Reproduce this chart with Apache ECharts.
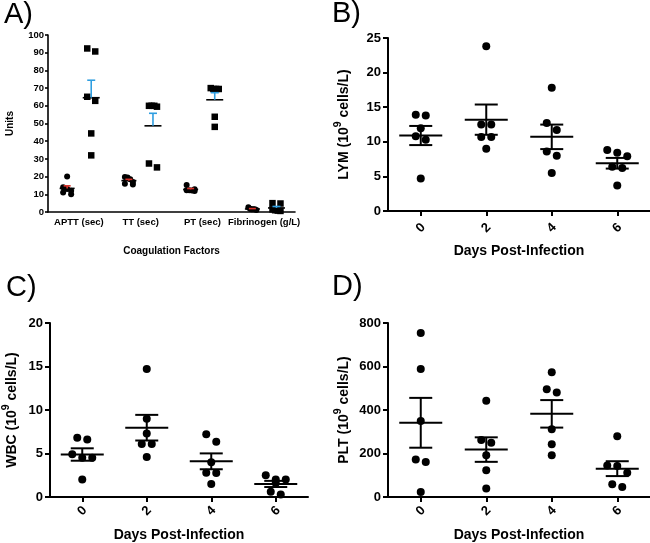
<!DOCTYPE html>
<html><head><meta charset="utf-8">
<script src="https://cdn.jsdelivr.net/npm/echarts@6/dist/echarts.min.js"></script>
<style>html,body{margin:0;padding:0;background:#fff}#c{width:650px;height:543px}</style>
</head><body><div id="c"></div>
<script>
// ---------- Data ----------
const coagCategories = ['APTT (sec)', 'TT (sec)', 'PT (sec)', 'Fibrinogen (g/L)'];
const coagControl = [
  [20.0, 14.0, 13.0, 12.0, 11.0, 10.0],
  [19.8, 19.5, 18.5, 17.0, 16.0, 15.5],
  [15.2, 12.8, 12.3, 12.3, 12.2, 11.8],
  [2.7, 1.8, 1.6, 1.5, 1.5, 1.2]
];
const coagInfected = [
  [92.4, 90.7, 65.1, 62.8, 44.4, 32.0],
  [60.0, 60.0, 59.5, 60.0, 27.4, 25.2],
  [69.5, 70.0, 69.5, 69.5, 53.8, 48.1],
  [5.0, 4.8, 1.5, 1.0, 0.8, 0.6]
];
const days = ['0', '2', '4', '6'];
const lym = [
  [13.9, 13.8, 11.95, 10.8, 10.3, 4.7],
  [23.8, 12.5, 12.5, 10.7, 10.7, 9.0],
  [17.8, 12.7, 11.7, 8.6, 8.0, 5.5],
  [8.8, 8.4, 7.9, 6.4, 6.2, 3.7]
];
const wbc = [
  [6.8, 6.6, 4.9, 4.5, 4.5, 2.0],
  [14.7, 9.0, 7.3, 6.1, 6.1, 4.6],
  [7.2, 6.35, 4.0, 2.8, 2.75, 1.5],
  [2.5, 2.0, 2.0, 1.6, 0.6, 0.3]
];
const plt = [
  [754, 588, 349, 172, 161, 23],
  [443, 262, 249, 192, 123, 39],
  [574, 495, 480, 311, 242, 192],
  [279, 145, 142, 111, 59, 46]
];

// ---------- Helpers ----------
const FONT = '"Liberation Sans", Arial, sans-serif';
function stats(v) {
  const n = v.length, m = v.reduce((a, b) => a + b, 0) / n;
  const sd = Math.sqrt(v.reduce((a, b) => a + (b - m) * (b - m), 0) / (n - 1));
  return [m, sd / Math.sqrt(n)];
}
function swarm(ys, spacing, maxSpan, thr) {
  const idx = ys.map((y, i) => i).sort((a, b) => ys[a] - ys[b]);
  const rows = [];
  idx.forEach(i => {
    const r = rows[rows.length - 1];
    if (r && Math.abs(ys[i] - ys[r[0]]) < thr) r.push(i); else rows.push([i]);
  });
  const off = new Array(ys.length).fill(0);
  rows.forEach(r => {
    const n = r.length; if (n < 2) return;
    const step = Math.min(spacing, maxSpan / (n - 1));
    r.forEach((i, k) => { off[i] = (k - (n - 1) / 2) * step; });
  });
  return off;
}
function pointData(groups) { return groups.flatMap((vals, ci) => vals.map((v, j) => [ci, v, j])); }
function meanData(groups) { return groups.map((vals, ci) => { const s = stats(vals); return [ci, s[0], s[1]]; }); }

function pointsRender(groups, cfg) {
  return function (params, api) {
    const ci = api.value(0), j = api.value(2);
    const vals = groups[ci];
    const ys = vals.map(v => api.coord([ci, v])[1]);
    const off = swarm(ys, cfg.spacing, cfg.maxSpan, cfg.thr);
    const bw = api.size([1, 0])[0];
    const p = api.coord([ci, vals[j]]);
    const x = p[0] + cfg.shift * bw + off[j], y = p[1];
    if (cfg.shape === 'square') {
      return { type: 'rect', shape: { x: x - cfg.size / 2, y: y - cfg.size / 2, width: cfg.size, height: cfg.size }, style: { fill: '#000' } };
    }
    return { type: 'circle', shape: { cx: x, cy: y, r: cfg.size / 2 }, style: { fill: '#000' } };
  };
}
function meanRender(cfg) {
  return function (params, api) {
    const ci = api.value(0), m = api.value(1), s = api.value(2);
    const bw = api.size([1, 0])[0];
    const p = api.coord([ci, m]);
    const cx = p[0] + cfg.shift * bw, cy = p[1];
    const top = api.coord([ci, m + s])[1];
    const bot = cfg.upperOnly ? cy : api.coord([ci, m - s])[1];
    const ls = { stroke: '#000', lineWidth: cfg.lw };
    const es = { stroke: cfg.color, lineWidth: cfg.lw };
    const ch = [
      { type: 'line', shape: { x1: cx - cfg.meanHalf, y1: cy, x2: cx + cfg.meanHalf, y2: cy }, style: ls },
      { type: 'line', shape: { x1: cx, y1: top, x2: cx, y2: bot }, style: es },
      { type: 'line', shape: { x1: cx - cfg.capHalf, y1: top, x2: cx + cfg.capHalf, y2: top }, style: es }
    ];
    if (!cfg.upperOnly) ch.push({ type: 'line', shape: { x1: cx - cfg.capHalf, y1: bot, x2: cx + cfg.capHalf, y2: bot }, style: es });
    return { type: 'group', children: ch };
  };
}

const axisLine = (w) => ({ show: true, lineStyle: { color: '#000', width: w } });
const boldTxt = (size) => ({ color: '#000', fontFamily: FONT, fontWeight: 'bold', fontSize: size });
function supName(label) {
  return '{n|' + label + ' (10}{s|9}{n| cells/L)}';
}
const supRich = {
  n: { fontFamily: FONT, fontWeight: 'bold', fontSize: 14, color: '#000', lineHeight: 22 },
  s: { fontFamily: FONT, fontWeight: 'bold', fontSize: 10.5, color: '#000', lineHeight: 12, verticalAlign: 'top' }
};

const grids = [
  { left: 48, top: 35, width: 247, height: 177 },
  { left: 388, top: 38, width: 262, height: 173 },
  { left: 48, top: 323, width: 260, height: 174 },
  { left: 388, top: 323, width: 262, height: 174 }
];

const labelMargins = [17, 14, 14];
const xNameGaps = [33, 31, 31];
const xAxes = [
  {
    gridIndex: 0, type: 'category', data: coagCategories, boundaryGap: true,
    axisLine: axisLine(1.6), axisTick: { show: false },
    axisLabel: Object.assign({ margin: 5, interval: 0 }, boldTxt(9.5)),
    name: 'Coagulation Factors', nameLocation: 'middle', nameGap: 34, nameTextStyle: boldTxt(10)
  }
].concat([1, 2, 3].map(g => ({
  gridIndex: g, type: 'category', data: days, boundaryGap: true,
  axisLine: axisLine(2), axisTick: { show: true, alignWithLabel: true, length: 5, lineStyle: { color: '#000', width: 2 } },
  axisLabel: Object.assign({ rotate: 45, margin: labelMargins[g - 1], align: 'center', verticalAlign: 'middle' }, boldTxt(13)),
  name: 'Days Post-Infection', nameLocation: 'middle', nameGap: xNameGaps[g - 1], nameTextStyle: boldTxt(14)
})));

const yTick = (w, l) => ({ show: true, length: l, lineStyle: { color: '#000', width: w } });
const yAxes = [
  {
    gridIndex: 0, type: 'value', min: 0, max: 100, interval: 10,
    axisLine: axisLine(1.6), axisTick: yTick(1.6, 3), splitLine: { show: false },
    axisLabel: Object.assign({ margin: 4 }, boldTxt(9.5)),
    name: 'Units', nameLocation: 'middle', nameRotate: 90, nameGap: 33, nameTextStyle: boldTxt(10)
  },
  {
    gridIndex: 1, type: 'value', min: 0, max: 25, interval: 5,
    axisLine: axisLine(2), axisTick: yTick(2, 5), splitLine: { show: false },
    axisLabel: Object.assign({ margin: 7 }, boldTxt(13)),
    name: supName('LYM'), nameLocation: 'middle', nameRotate: 90, nameGap: 33, nameTextStyle: { rich: supRich }
  },
  {
    gridIndex: 2, type: 'value', min: 0, max: 20, interval: 5,
    axisLine: axisLine(2), axisTick: yTick(2, 5), splitLine: { show: false },
    axisLabel: Object.assign({ margin: 7 }, boldTxt(13)),
    name: supName('WBC'), nameLocation: 'middle', nameRotate: 90, nameGap: 27, nameTextStyle: { rich: supRich }
  },
  {
    gridIndex: 3, type: 'value', min: 0, max: 800, interval: 200,
    axisLine: axisLine(2), axisTick: yTick(2, 5), splitLine: { show: false },
    axisLabel: Object.assign({ margin: 7 }, boldTxt(13)),
    name: supName('PLT'), nameLocation: 'middle', nameRotate: 90, nameGap: 33, nameTextStyle: { rich: supRich }
  }
];

const RED = '#d6322a', BLUE = '#2f9ee0';
const series = [];
// Panel A
series.push({ type: 'custom', xAxisIndex: 0, yAxisIndex: 0, encode: { x: 0, y: 1 }, data: pointData(coagControl),
  renderItem: pointsRender(coagControl, { shape: 'circle', size: 6, shift: -0.19, spacing: 8, maxSpan: 8, thr: 5 }) });
series.push({ type: 'custom', xAxisIndex: 0, yAxisIndex: 0, encode: { x: 0, y: 1 }, data: pointData(coagInfected),
  renderItem: pointsRender(coagInfected, { shape: 'square', size: 6.5, shift: 0.2, spacing: 8, maxSpan: 8, thr: 5 }) });
series.push({ type: 'custom', xAxisIndex: 0, yAxisIndex: 0, encode: { x: 0, y: 1 }, data: meanData(coagControl),
  renderItem: meanRender({ shift: -0.19, meanHalf: 7.5, capHalf: 3.5, lw: 1.6, color: RED, upperOnly: true }) });
series.push({ type: 'custom', xAxisIndex: 0, yAxisIndex: 0, encode: { x: 0, y: 1 }, data: meanData(coagInfected),
  renderItem: meanRender({ shift: 0.2, meanHalf: 8.5, capHalf: 4, lw: 1.6, color: BLUE, upperOnly: true }) });
// Panels B-D
[lym, wbc, plt].forEach((g, k) => {
  const ax = k + 1;
  series.push({ type: 'custom', xAxisIndex: ax, yAxisIndex: ax, encode: { x: 0, y: 1 }, data: pointData(g),
    renderItem: pointsRender(g, { shape: 'circle', size: 8, shift: 0, spacing: 10, maxSpan: 20, thr: 7.5 }) });
  series.push({ type: 'custom', xAxisIndex: ax, yAxisIndex: ax, encode: { x: 0, y: 1 }, data: meanData(g),
    renderItem: meanRender({ shift: 0, meanHalf: 21.5, capHalf: 11.5, lw: 2, color: '#000', upperOnly: false }) });
});

const letter = (t, x, y) => ({ type: 'text', left: x, top: y, style: { text: t, font: '29px ' + FONT, fill: '#000' } });

const chart = echarts.init(document.getElementById('c'), null, { renderer: 'canvas' });
chart.setOption({
  animation: false,
  backgroundColor: '#fff',
  grid: grids,
  xAxis: xAxes,
  yAxis: yAxes,
  series: series,
  graphic: [letter('A)', 4, 0), letter('B)', 332, -1), letter('C)', 6, 273), letter('D)', 332, 272)]
});
</script>
</body></html>
